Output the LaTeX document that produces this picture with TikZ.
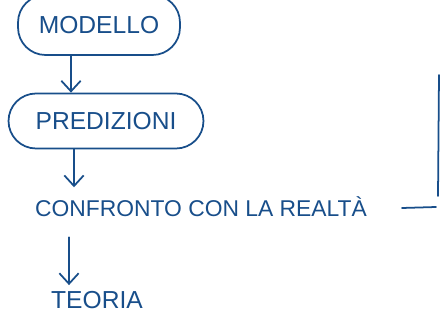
\documentclass[tikz,border=0pt]{standalone}
\usepackage{fontspec}
\setmainfont{Liberation Sans}
\usepackage{tikz}
\usetikzlibrary{positioning,arrows.meta}
\definecolor{ink}{RGB}{24,78,138}

\tikzset{
  bubble/.style={draw=ink, line width=1pt, rounded corners=0.55cm, minimum height=1.1cm},
  word/.style={text=ink, font=\fontsize{14}{16}\selectfont},
  pen/.style={draw=ink, line width=1pt, line cap=round}
}

\begin{document}
\begin{tikzpicture}[x=0.02cm, y=-0.02cm, >={Straight Barb[length=6pt,width=11pt]}]
  \useasboundingbox (0,0) rectangle (443,320);
  \node[bubble, word, minimum width=3.24cm, minimum height=1.2cm] (modello) at (99,25) {MODELLO};
  \node[bubble, word, minimum width=3.9cm] (predizioni) at (106,121) {PREDIZIONI};
  \node[word, font=\fontsize{13}{15}\selectfont] (confronto) at (201,207) {CONFRONTO CON LA REALTÀ};
  \node[word] (teoria) at (97,300) {TEORIA};
  \coordinate (ax) at (71,0);
  \coordinate (bx) at (74,0);
  \coordinate (cx) at (69,0);
  \draw[pen, ->] (modello.south -| ax) -- (predizioni.north -| ax);
  \draw[pen, ->] (predizioni.south -| bx) -- ([yshift=2pt]confronto.north -| bx);
  \draw[pen, ->] ([yshift=-8pt]confronto.south -| cx) -- (teoria.north -| cx);
  % lines on the right
  \coordinate (top) at (439,75);
  \coordinate (low) at (438,196);
  \coordinate (hl) at (402,208);
  \coordinate (hr) at (436,207);
  \draw[pen] (top) -- (low);
  \draw[pen] (hl) -- (hr);
\end{tikzpicture}
\end{document}
